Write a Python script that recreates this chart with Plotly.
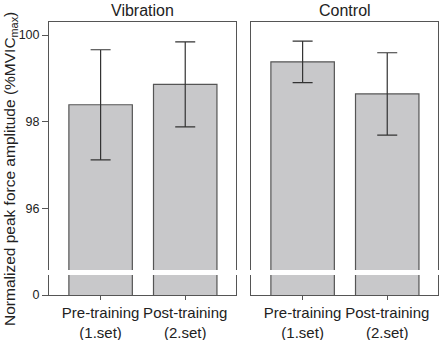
import plotly.graph_objects as go
from plotly.subplots import make_subplots

groups = ["Vibration", "Control"]
categories = ["Pre-training<br>(1.set)", "Post-training<br>(2.set)"]
vib_means = [98.39, 98.86]
vib_err = [1.27, 0.98]
ctl_means = [99.38, 98.64]
ctl_err = [0.48, 0.95]
ytick_vals = [94, 96, 98, 100]
ytick_text = ["0", "96", "98", "100"]
y_title = "Normalized peak force amplitude (%MVIC<sub>max</sub>)"

fig = make_subplots(rows=1, cols=2, horizontal_spacing=0.0386)
font_family = "Liberation Sans, Arial, sans-serif"

for i, (means, err) in enumerate([(vib_means, vib_err), (ctl_means, ctl_err)]):
    fig.add_trace(go.Bar(
        x=[0, 1], y=means, width=0.75,
        marker=dict(color="#c8c8ca", line=dict(color="#555555", width=1.2)),
        error_y=dict(type="data", array=err, visible=True, color="#333333",
                     thickness=1.2, width=10),
        showlegend=False, hoverinfo="skip",
    ), row=1, col=i + 1)

for c in (1, 2):
    fig.update_xaxes(range=[-0.61, 1.6], tickvals=[0, 1], ticktext=categories,
                     tickangle=0,
                     showline=True, mirror=True, linecolor="#555555", linewidth=1,
                     ticks="outside", ticklen=4, tickcolor="#555555",
                     showgrid=False, zeroline=False, automargin=False,
                     tickfont=dict(size=15, color="#222222", family=font_family),
                     row=1, col=c)
    fig.update_yaxes(range=[94, 100.3], tickvals=ytick_vals,
                     ticktext=ytick_text if c == 1 else None,
                     showticklabels=(c == 1),
                     ticks="outside" if c == 1 else "", ticklen=6,
                     tickcolor="#555555",
                     showline=True, mirror=True, linecolor="#555555", linewidth=1,
                     showgrid=False, zeroline=False, automargin=False,
                     tickfont=dict(size=12.5, color="#222222", family=font_family),
                     row=1, col=c)

# y-axis title
fig.add_annotation(text=y_title, textangle=-90, xref="paper", yref="paper",
                   x=(10 - 49) / 389, y=0.4615, xanchor="center", yanchor="middle",
                   showarrow=False,
                   font=dict(size=15.5, color="#222222", family=font_family))

# axis break band
fig.add_shape(type="rect", xref="paper", yref="y", x0=-0.03, x1=1.02,
              y0=94.46, y1=94.575, fillcolor="white", line=dict(width=0),
              layer="above")

for i, g in enumerate(groups):
    fig.add_annotation(text=g, xref="x%s domain" % ("" if i == 0 else "2"),
                       yref="paper", x=0.5, y=1.0, yanchor="bottom", yshift=1,
                       showarrow=False,
                       font=dict(size=16, color="#222222", family=font_family))

fig.update_layout(
    width=442, height=340,
    margin=dict(l=49, r=4, t=22, b=45),
    plot_bgcolor="white", paper_bgcolor="white",
)

fig.write_html("out.html", config={"displayModeBar": False},
               post_script="document.body.style.margin='0';")
